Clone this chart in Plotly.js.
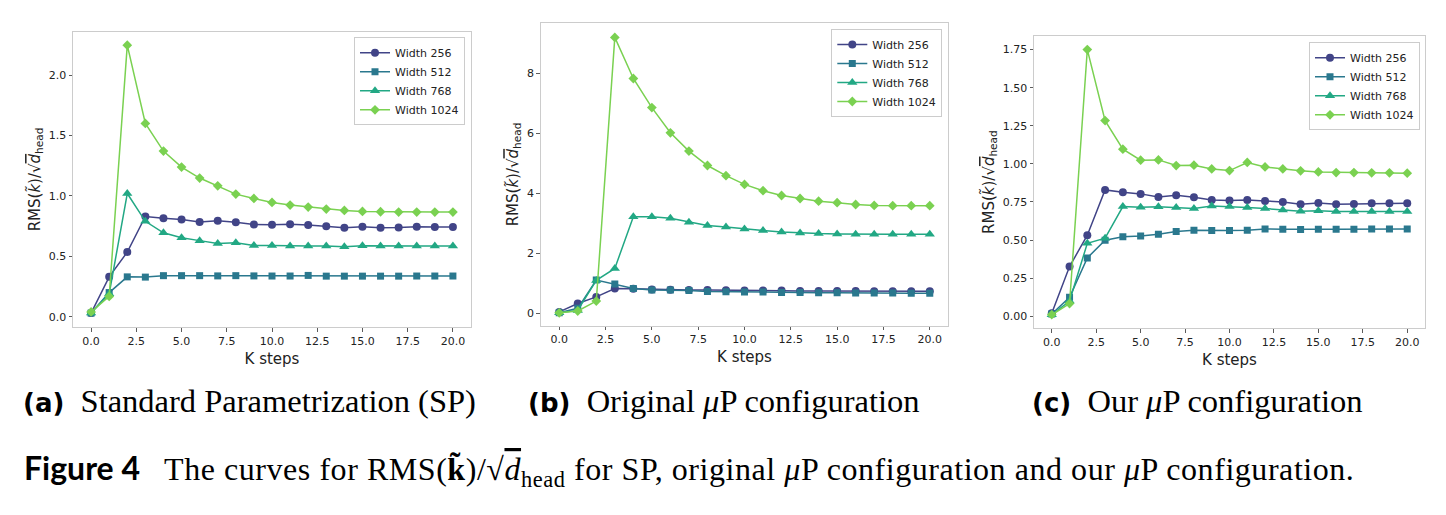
<!DOCTYPE html>
<html>
<head>
<meta charset="utf-8">
<script src="https://cdn.plot.ly/plotly-3.0.1.min.js"></script>
<style>
  html, body { margin: 0; padding: 0; background: #ffffff; }
  #chart { width: 1446px; height: 515px; }
</style>
</head>
<body>
<div id="chart"></div>
<script>
// ---------- data ----------
const steps = [0,1,2,3,4,5,6,7,8,9,10,11,12,13,14,15,16,17,18,19,20];
const seriesNames = ["Width 256", "Width 512", "Width 768", "Width 1024"];

// (a) Standard Parametrization (SP)
const sp256  = [0.03, 0.33, 0.535, 0.83, 0.815, 0.805, 0.785, 0.795, 0.783, 0.764, 0.761, 0.766, 0.759, 0.75, 0.737, 0.745, 0.737, 0.739, 0.745, 0.742, 0.742];
const sp512  = [0.03, 0.20, 0.33, 0.328, 0.34, 0.34, 0.34, 0.338, 0.34, 0.338, 0.337, 0.337, 0.342, 0.336, 0.336, 0.336, 0.336, 0.336, 0.337, 0.337, 0.337];
const sp768  = [0.03, 0.19, 1.02, 0.79, 0.695, 0.654, 0.63, 0.607, 0.612, 0.59, 0.59, 0.585, 0.585, 0.585, 0.58, 0.588, 0.585, 0.585, 0.585, 0.585, 0.585];
const sp1024 = [0.04, 0.168, 2.248, 1.60, 1.371, 1.239, 1.148, 1.084, 1.015, 0.979, 0.946, 0.924, 0.908, 0.891, 0.88, 0.872, 0.869, 0.866, 0.866, 0.866, 0.866];

// (b) Original muP configuration
const op256  = [0.05, 0.33, 0.55, 0.83, 0.82, 0.80, 0.79, 0.78, 0.78, 0.77, 0.76, 0.76, 0.76, 0.75, 0.75, 0.75, 0.75, 0.74, 0.74, 0.74, 0.74];
const op512  = [0.02, 0.17, 1.11, 0.98, 0.83, 0.78, 0.78, 0.76, 0.73, 0.72, 0.71, 0.71, 0.70, 0.70, 0.69, 0.69, 0.68, 0.68, 0.68, 0.67, 0.67];
const op768  = [0.02, 0.10, 1.10, 1.50, 3.22, 3.22, 3.17, 3.04, 2.93, 2.88, 2.81, 2.76, 2.71, 2.68, 2.66, 2.65, 2.64, 2.64, 2.64, 2.64, 2.64];
const op1024 = [0.02, 0.08, 0.41, 9.20, 7.83, 6.86, 6.02, 5.41, 4.93, 4.59, 4.30, 4.09, 3.93, 3.83, 3.74, 3.69, 3.63, 3.60, 3.59, 3.59, 3.59];

// (c) Our muP configuration
const our256  = [0.02, 0.326, 0.532, 0.829, 0.814, 0.803, 0.783, 0.794, 0.781, 0.763, 0.759, 0.763, 0.757, 0.75, 0.735, 0.744, 0.735, 0.737, 0.742, 0.742, 0.742];
const our512  = [0.015, 0.125, 0.383, 0.499, 0.521, 0.527, 0.538, 0.556, 0.564, 0.562, 0.562, 0.564, 0.573, 0.571, 0.569, 0.571, 0.571, 0.571, 0.573, 0.573, 0.573];
const our768  = [0.01, 0.10, 0.479, 0.512, 0.72, 0.715, 0.718, 0.713, 0.707, 0.724, 0.72, 0.713, 0.707, 0.698, 0.689, 0.693, 0.687, 0.687, 0.687, 0.687, 0.687];
const our1024 = [0.01, 0.083, 1.75, 1.284, 1.096, 1.024, 1.026, 0.989, 0.991, 0.967, 0.956, 1.009, 0.98, 0.967, 0.954, 0.947, 0.943, 0.943, 0.941, 0.941, 0.939];

// tick labels
const xTickVals = [0, 2.5, 5, 7.5, 10, 12.5, 15, 17.5, 20];
const xTickText = ["0.0", "2.5", "5.0", "7.5", "10.0", "12.5", "15.0", "17.5", "20.0"];
const yTickValsA = [0, 0.5, 1.0, 1.5, 2.0];
const yTickTextA = ["0.0", "0.5", "1.0", "1.5", "2.0"];
const yTickValsB = [0, 2, 4, 6, 8];
const yTickTextB = ["0", "2", "4", "6", "8"];
const yTickValsC = [0, 0.25, 0.5, 0.75, 1.0, 1.25, 1.5, 1.75];
const yTickTextC = ["0.00", "0.25", "0.50", "0.75", "1.00", "1.25", "1.50", "1.75"];

// captions
const LBL = "<span style='font-family:DejaVu Sans;font-weight:bold;font-size:26px'>";
const captionA = LBL + "(a)</span>  Standard Parametrization (SP)";
const captionB = LBL + "(b)</span>  Original <i>μ</i>P configuration";
const captionC = LBL + "(c)</span>  Our <i>μ</i>P configuration";
const figCaption = "<span style='font-family:Lato;font-weight:bold;letter-spacing:0px'>Figure 4</span>   <span style='letter-spacing:0.55px'>The curves for RMS(<b>k̃</b>)/√<span style='text-decoration:overline'><i>d</i></span><sub>head</sub> for SP, original <i>μ</i>P configuration and our <i>μ</i>P configuration.</span>";
const yLabel = "RMS(<i>k̃</i>)/√<span style='text-decoration:overline'><i>d</i></span><sub>head</sub>";
const xLabel = "K steps";

// ---------- style ----------
const colors  = ["#414487", "#2a788e", "#22a884", "#7ad151"];
const symbols = ["circle", "square", "triangle-up", "diamond"];
const sizes   = [8, 7, 9, 7.5];

const W = 1446, H = 515;
const px = v => v / W;
const py = v => 1 - v / H;

const panels = [
  { data: [sp256, sp512, sp768, sp1024], xa: "x",  ya: "y",  legend: "legend" },
  { data: [op256, op512, op768, op1024], xa: "x2", ya: "y2", legend: "legend2" },
  { data: [our256, our512, our768, our1024], xa: "x3", ya: "y3", legend: "legend3" }
];

const traces = [];
panels.forEach(p => {
  p.data.forEach((ys, i) => {
    traces.push({
      type: "scatter",
      mode: "lines+markers",
      x: steps,
      y: ys,
      name: seriesNames[i],
      xaxis: p.xa,
      yaxis: p.ya,
      legend: p.legend,
      line: { color: colors[i], width: 1.5 },
      marker: { color: colors[i], symbol: symbols[i], size: sizes[i], line: { width: 0 } }
    });
  });
});

const tickFont = { family: "DejaVu Sans", size: 11, color: "#222222" };
const titleFont = { family: "DejaVu Sans", size: 15, color: "#222222" };

function xAxis(domain, anchor) {
  return {
    domain: domain, anchor: anchor, range: [-1, 21],
    tickmode: "array", tickvals: xTickVals, ticktext: xTickText,
    ticks: "outside", ticklen: 3.5, tickwidth: 0.8, tickcolor: "#333333",
    showline: true, mirror: true, linecolor: "#cccccc", linewidth: 1,
    showgrid: false, zeroline: false, tickfont: tickFont,
    title: { text: xLabel, font: titleFont, standoff: 6 }
  };
}
function yAxis(domain, anchor, range, vals, text) {
  return {
    domain: domain, anchor: anchor, range: range,
    tickmode: "array", tickvals: vals, ticktext: text,
    ticks: "outside", ticklen: 3.5, tickwidth: 0.8, tickcolor: "#333333",
    showline: true, mirror: true, linecolor: "#cccccc", linewidth: 1,
    showgrid: false, zeroline: false, tickfont: tickFont,
    title: { text: yLabel, font: titleFont, standoff: 4 }
  };
}
function legendAt(rightPx, topPx) {
  return {
    x: px(rightPx), y: py(topPx), xanchor: "right", yanchor: "top",
    xref: "paper", yref: "paper",
    bgcolor: "rgba(255,255,255,0.8)", bordercolor: "#cccccc", borderwidth: 1,
    font: { family: "DejaVu Sans", size: 11, color: "#222222" },
    tracegroupgap: 0, itemwidth: 30
  };
}

const capFont = { family: "Liberation Serif", size: 32.5, color: "#000000" };

const layout = {
  width: W, height: H,
  margin: { l: 0, r: 0, t: 0, b: 0 },
  paper_bgcolor: "#ffffff", plot_bgcolor: "#ffffff",
  showlegend: true,
  xaxis:  xAxis([px(73), px(471)], "y"),
  yaxis:  yAxis([py(327), py(32)], "x", [-0.085, 2.357], yTickValsA, yTickTextA),
  xaxis2: xAxis([px(540.7), px(948.3)], "y2"),
  yaxis2: yAxis([py(325.7), py(23.3)], "x2", [-0.41, 9.67], yTickValsB, yTickTextB),
  xaxis3: xAxis([px(1034), px(1425)], "y3"),
  yaxis3: yAxis([py(328.3), py(36)], "x3", [-0.079, 1.839], yTickValsC, yTickTextC),
  legend:  legendAt(465, 37.3),
  legend2: legendAt(942.3, 29),
  legend3: legendAt(1420, 42.3),
  annotations: [
    { text: captionA, x: px(21), y: py(401), xref: "paper", yref: "paper", xanchor: "left", yanchor: "middle", showarrow: false, font: capFont },
    { text: captionB, x: px(526), y: py(401), xref: "paper", yref: "paper", xanchor: "left", yanchor: "middle", showarrow: false, font: capFont },
    { text: captionC, x: px(1030), y: py(401), xref: "paper", yref: "paper", xanchor: "left", yanchor: "middle", showarrow: false, font: capFont },
    { text: figCaption, x: px(22), y: py(470), xref: "paper", yref: "paper", xanchor: "left", yanchor: "middle", showarrow: false,
      font: { family: "Liberation Serif", size: 32, color: "#000000" } }
  ]
};

Plotly.newPlot("chart", traces, layout, { staticPlot: true, displayModeBar: false });
</script>
</body>
</html>
